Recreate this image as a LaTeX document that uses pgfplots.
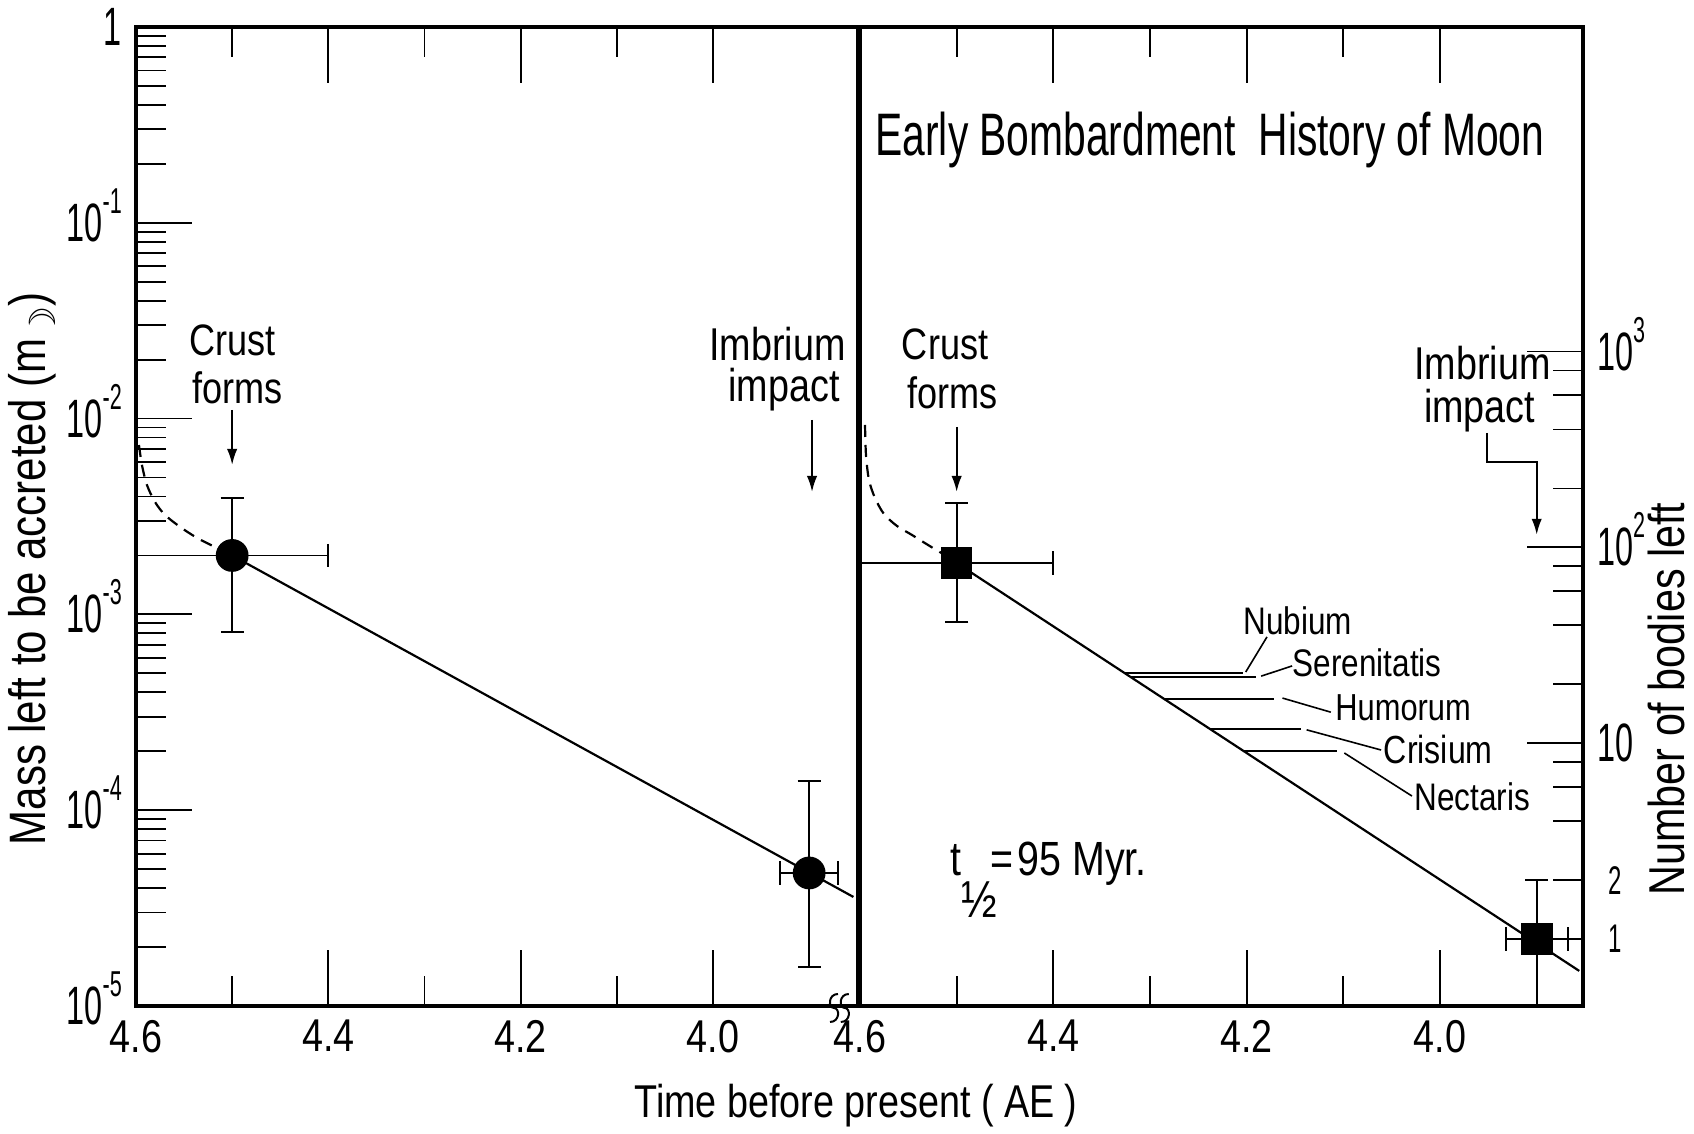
\documentclass[border=0pt]{standalone}
\usepackage{fontspec}
\setmainfont{Liberation Sans}[FakeStretch=0.82]
\newfontfamily\titlefont{Liberation Sans}[FakeStretch=0.68]
\newfontfamily\tickfont{Liberation Sans}[FakeStretch=0.6]
\newfontfamily\symfont{DejaVu Sans}
\usepackage{pgfplots}
\pgfplotsset{compat=1.18}
\usetikzlibrary{arrows.meta}

\newcommand{\tenp}[1]{{\tickfont\fontsize{13.5}{13.5}\selectfont 10\raisebox{7pt}[0pt][0pt]{\fontsize{9}{9}\selectfont #1}}}

\begin{document}
\begin{tikzpicture}
\path[use as bounding box] (0,0) rectangle (423.5pt,283.5pt);

% ---------------- left panel ----------------
\begin{axis}[scale only axis, anchor=south west, at={(34pt,32pt)},
  width=180.5pt, height=244.75pt,
  ymode=log, x dir=reverse, xmin=3.8492, xmax=4.6, ymin=1e-5, ymax=1,
  axis line style={line width=1pt},
  tick style={black, line width=0.45pt},
  major tick length=14pt, minor tick length=7.5pt,
  tick align=inside,
  xtick={4.6,4.4,4.2,4.0}, xticklabels={4.6,4.4,4.2,4.0},
  minor xtick={4.5,4.3,4.1},
  xticklabel style={font=\fontsize{11.5}{11.5}\selectfont},
  ytick={1e-5,1e-4,1e-3,1e-2,1e-1,1},
  yticklabels={\tenp{-5},\tenp{-4},\tenp{-3},\tenp{-2},\tenp{-1},{\tickfont\fontsize{13.5}{13.5}\selectfont 1}},
  minor ytick={2e-5,3e-5,4e-5,5e-5,6e-5,7e-5,8e-5,9e-5,
               2e-4,3e-4,4e-4,5e-4,6e-4,7e-4,8e-4,9e-4,
               2e-3,3e-3,4e-3,5e-3,6e-3,7e-3,8e-3,9e-3,
               2e-2,3e-2,4e-2,5e-2,6e-2,7e-2,8e-2,9e-2,
               0.2,0.3,0.4,0.5,0.6,0.7,0.8,0.9},
  ytick pos=left,
]
\addplot[black, line width=0.55pt, dash pattern=on 3pt off 2pt, smooth] coordinates {
  (4.5969,7.33e-3) (4.5938,5.79e-3) (4.5886,4.58e-3) (4.5802,3.75e-3) (4.5698,3.22e-3)
  (4.5542,2.80e-3) (4.5366,2.46e-3) (4.5179,2.21e-3) (4.5,2.0e-3)};
\addplot[black, line width=0.55pt] coordinates {(4.5,2.0e-3) (3.854,3.606e-5)};
\addplot[only marks, black, mark=*, mark size=3.9pt, mark options={fill=black},
  error bars/.cd, x dir=both, x explicit, y dir=both, y explicit,
  error bar style={line width=0.45pt, black},
  error mark options={rotate=90, mark size=2.9pt, line width=0.45pt, black}] coordinates {
  (4.5,2.0e-3) += (0.1,1.93e-3) -= (0.1,1.19e-3)
  (3.9,4.78e-5) += (0.03,9.32e-5) -= (0.03,3.2e-5)};
% annotations
\node[anchor=base, inner sep=0pt, font=\fontsize{11}{11}\selectfont] at (axis cs:4.500,2.11e-2) {Crust};
\node[anchor=base, inner sep=0pt, font=\fontsize{11}{11}\selectfont] at (axis cs:4.494,1.20e-2) {forms};
\draw[line width=0.5pt, -{Latex[length=4pt,width=2.6pt]}] (axis cs:4.5,1.107e-2) -- (axis cs:4.5,5.8e-3);
\node[anchor=base, inner sep=0pt, font=\fontsize{11.5}{11.5}\selectfont] at (axis cs:3.933,1.99e-2) {Imbrium};
\node[anchor=base, inner sep=0pt, font=\fontsize{11.5}{11.5}\selectfont] at (axis cs:3.926,1.22e-2) {impact};
\draw[line width=0.5pt, -{Latex[length=4pt,width=2.6pt]}] (axis cs:3.897,9.84e-3) -- (axis cs:3.897,4.22e-3);
\end{axis}

% ---------------- right panel ----------------
\begin{axis}[scale only axis, anchor=south west, at={(215pt,32pt)},
  width=180.75pt, height=244.75pt,
  ymode=log, x dir=reverse, xmin=3.8521, xmax=4.6, ymin=0.4548, ymax=45480,
  axis line style={line width=1pt},
  tick style={black, line width=0.45pt},
  major tick length=14pt, minor tick length=7.5pt,
  tick align=inside,
  xtick={4.6,4.4,4.2,4.0}, xticklabels={4.6,4.4,4.2,4.0},
  minor xtick={4.5,4.3,4.1},
  xticklabel style={font=\fontsize{11.5}{11.5}\selectfont},
  ytick={10,100,1000},
  yticklabels={{\tickfont\fontsize{13.5}{13.5}\selectfont 10},\tenp{2},\tenp{3}},
  minor ytick={2,4,6,8,20,40,60,80,200,400,600,800},
  extra y ticks={1}, extra y tick labels={},
  extra y tick style={major tick length=3.5pt},
  ytick pos=right, yticklabel pos=right,
]
\addplot[black, line width=0.55pt, dash pattern=on 3pt off 2pt, smooth] coordinates {
  (4.5948,421.8) (4.5938,296.4) (4.5907,220.9) (4.5845,178.8) (4.5752,148.1)
  (4.5617,128.6) (4.5462,115.7) (4.5297,102.9) (4.5141,92.5) (4.5,83.2)};
\addplot[black, line width=0.55pt] coordinates {(4.5,83.2) (3.856,0.687)};
% basin levels
\addplot[black, line width=0.45pt] coordinates {(4.326,22.8) (4.204,22.8)};
\addplot[black, line width=0.45pt] coordinates {(4.320,21.8) (4.190,21.8)};
\addplot[black, line width=0.45pt] coordinates {(4.285,16.8) (4.172,16.8)};
\addplot[black, line width=0.45pt] coordinates {(4.238,11.8) (4.144,11.8)};
\addplot[black, line width=0.45pt] coordinates {(4.203,9.12) (4.107,9.12)};
\addplot[only marks, black, mark=square*, mark size=3.75pt, mark options={fill=black},
  error bars/.cd, x dir=both, x explicit, y dir=both, y explicit,
  error bar style={line width=0.45pt, black},
  error mark options={rotate=90, mark size=2.9pt, line width=0.45pt, black}] coordinates {
  (4.5,83.2) += (0.1,85.4) -= (0.1,41.6)
  (3.9,1.0) += (0.032,1.0) -= (0.032,0.9)};
% leaders and basin names
\draw[line width=0.4pt] (axis cs:4.201,23.1) -- (axis cs:4.179,34.9);
\draw[line width=0.4pt] (axis cs:4.185,22.0) -- (axis cs:4.153,24.8);
\draw[line width=0.4pt] (axis cs:4.163,17.0) -- (axis cs:4.113,14.4);
\draw[line width=0.4pt] (axis cs:4.138,11.7) -- (axis cs:4.061,9.23);
\draw[line width=0.4pt] (axis cs:4.099,8.91) -- (axis cs:4.029,5.37);
\node[anchor=base, inner sep=0pt, font=\fontsize{9.6}{9.6}\selectfont] at (axis cs:4.147,35.7) {Nubium};
\node[anchor=base west, inner sep=0pt, font=\fontsize{9.6}{9.6}\selectfont] at (axis cs:4.153,22.0) {Serenitatis};
\node[anchor=base west, inner sep=0pt, font=\fontsize{9.4}{9.4}\selectfont] at (axis cs:4.109,13.1) {Humorum};
\node[anchor=base west, inner sep=0pt, font=\fontsize{9.8}{9.8}\selectfont] at (axis cs:4.059,7.92) {Crisium};
\node[anchor=base west, inner sep=0pt, font=\fontsize{9.6}{9.6}\selectfont] at (axis cs:4.027,4.51) {Nectaris};
% title and other annotations
\node[anchor=base, inner sep=0pt, font=\titlefont\fontsize{15}{15}\selectfont] at (axis cs:4.238,10090) {Early Bombardment\ \ History of Moon};
\node[anchor=base, inner sep=0pt, font=\fontsize{11}{11}\selectfont] at (axis cs:4.512,906) {Crust};
\node[anchor=base, inner sep=0pt, font=\fontsize{11}{11}\selectfont] at (axis cs:4.504,515) {forms};
\draw[line width=0.5pt, -{Latex[length=4pt,width=2.6pt]}] (axis cs:4.5,412) -- (axis cs:4.5,192);
\node[anchor=base, inner sep=0pt, font=\fontsize{11.5}{11.5}\selectfont] at (axis cs:3.956,716) {Imbrium};
\node[anchor=base, inner sep=0pt, font=\fontsize{11.5}{11.5}\selectfont] at (axis cs:3.959,432) {impact};
\draw[line width=0.5pt, -{Latex[length=4pt,width=2.6pt]}] (axis cs:3.951,384) -- (axis cs:3.951,273) -- (axis cs:3.900,273) -- (axis cs:3.900,116);
\node[anchor=base west, inner sep=0pt, font=\fontsize{12}{12}\selectfont] at (axis cs:4.507,2.1)
  {t\rlap{\raisebox{-10.5pt}{\fontsize{13}{13}\selectfont ½}}\hspace{7.25pt}=\hspace{1pt}95 Myr.};
\draw[line width=0.45pt] (axis cs:3.9,45480) -- ++(0,-7.5pt);
\coordinate (two) at (axis cs:3.8521,2);
\coordinate (one) at (axis cs:3.8521,1);
\end{axis}

\node[font=\tickfont\fontsize{10}{10}\selectfont, xshift=8pt] at (two) {2};
\node[font=\tickfont\fontsize{10}{10}\selectfont, xshift=8pt] at (one) {1};

% axis titles
\node[rotate=90, font=\fontsize{12.8}{12.8}\selectfont] at (8pt,141.25pt) {Mass left to be accreted (m\raisebox{-2.5pt}{\symfont\fontsize{9}{9}\selectfont ☽})};
\node[rotate=90, font=\fontsize{12.6}{12.6}\selectfont] at (416.5pt,108.75pt) {Number of bodies left};
\node[anchor=base, font=\fontsize{11.5}{11.5}\selectfont, inner sep=0pt] at (214pt,4pt) {Time before present ( AE )};

% axis break mark
\draw[line width=0.5pt] (209.5pt,35pt) .. controls (207pt,35pt) and (207pt,31.5pt) .. (208.5pt,31.5pt) .. controls (210pt,31.5pt) and (210pt,28pt) .. (207.5pt,28pt);
\draw[line width=0.5pt] (212.2pt,35pt) .. controls (209.7pt,35pt) and (209.7pt,31.5pt) .. (211.2pt,31.5pt) .. controls (212.7pt,31.5pt) and (212.7pt,28pt) .. (210.2pt,28pt);
\end{tikzpicture}
\end{document}
